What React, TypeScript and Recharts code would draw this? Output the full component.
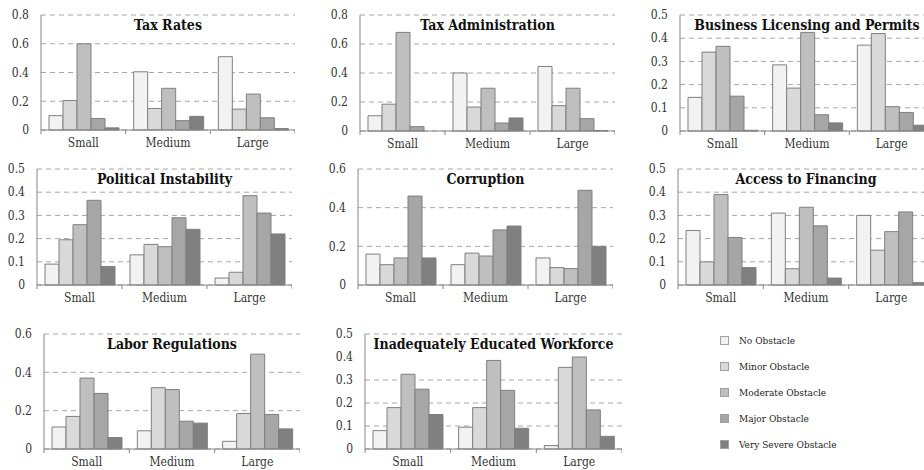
import React from "react";
import { BarChart, Bar, XAxis, YAxis, CartesianGrid } from "recharts";

const FONT = "'DejaVu Serif Condensed', 'DejaVu Serif', serif";

const SIZES = ["Small", "Medium", "Large"];
const SERIES = [
  "No Obstacle",
  "Minor Obstacle",
  "Moderate Obstacle",
  "Major Obstacle",
  "Very Severe Obstacle",
];
const FILLS = ["#f2f2f2", "#d9d9d9", "#bfbfbf", "#a6a6a6", "#808080"];

const TICKS_8 = [0, 0.2, 0.4, 0.6, 0.8];
const TICKS_6 = [0, 0.2, 0.4, 0.6];
const TICKS_5 = [0, 0.1, 0.2, 0.3, 0.4, 0.5];

// one row per firm size, values in SERIES order
const taxRates = [
  [0.1, 0.205, 0.6, 0.08, 0.015],
  [0.405, 0.15, 0.29, 0.065, 0.095],
  [0.51, 0.145, 0.25, 0.085, 0.01],
];
const taxAdministration = [
  [0.105, 0.185, 0.68, 0.03, 0],
  [0.4, 0.165, 0.295, 0.055, 0.09],
  [0.445, 0.175, 0.295, 0.085, 0.003],
];
const businessLicensing = [
  [0.145, 0.34, 0.365, 0.15, 0.003],
  [0.285, 0.185, 0.425, 0.07, 0.035],
  [0.37, 0.42, 0.105, 0.08, 0.025],
];
const politicalInstability = [
  [0.09, 0.195, 0.26, 0.365, 0.08],
  [0.13, 0.175, 0.165, 0.29, 0.24],
  [0.03, 0.055, 0.385, 0.31, 0.22],
];
const corruption = [
  [0.16, 0.105, 0.14, 0.46, 0.14],
  [0.105, 0.165, 0.15, 0.285, 0.305],
  [0.14, 0.09, 0.085, 0.49, 0.2],
];
const accessToFinancing = [
  [0.235, 0.1, 0.39, 0.205, 0.075],
  [0.31, 0.07, 0.335, 0.255, 0.03],
  [0.3, 0.15, 0.23, 0.315, 0.01],
];
const laborRegulations = [
  [0.115, 0.17, 0.37, 0.29, 0.06],
  [0.095, 0.32, 0.31, 0.145, 0.135],
  [0.04, 0.185, 0.495, 0.18, 0.105],
];
const educatedWorkforce = [
  [0.08, 0.18, 0.325, 0.26, 0.15],
  [0.095, 0.18, 0.385, 0.255, 0.09],
  [0.015, 0.355, 0.4, 0.17, 0.055],
];

const toRows = (values: number[][]) =>
  SIZES.map((size, i) => {
    const row: Record<string, any> = { size };
    values[i].forEach((v, j) => (row["s" + j] = v));
    return row;
  });

function SizeTick(props: any) {
  const { x, y, payload, band, index } = props;
  return (
    <g>
      <text
        x={x}
        y={y + 17}
        textAnchor="middle"
        fontSize={12}
        fontFamily={FONT}
        fill="#333"
      >
        {payload.value}
      </text>
      <line x1={x + band / 2} x2={x + band / 2} y1={y} y2={y + 4} stroke="#868686" />
      {index === 0 && (
        <line x1={x - band / 2} x2={x - band / 2} y1={y} y2={y + 4} stroke="#868686" />
      )}
    </g>
  );
}

interface PanelProps {
  title: string;
  values: number[][];
  max: number;
  ticks: number[];
  x0: number;
  y0: number;
  x1: number;
  y1: number;
}

function Panel({ title, values, max, ticks, x0, y0, x1, y1 }: PanelProps) {
  const yW = 40;
  const mt = 10;
  const xH = 30;
  const left = x0 - yW;
  const top = y0 - mt;
  const width = x1 - left;
  const height = y1 - top + xH;
  const band = (x1 - x0) / SIZES.length;

  return (
    <div style={{ position: "absolute", left, top, width, height }}>
      <BarChart
        width={width}
        height={height}
        data={toRows(values)}
        margin={{ top: mt, right: 0, left: 0, bottom: 0 }}
        barCategoryGap={8}
        barGap={0}
      >
        <CartesianGrid vertical={false} stroke="#a6a6a6" strokeDasharray="5 4" />
        <XAxis
          dataKey="size"
          height={xH}
          interval={0}
          tickSize={0}
          tickMargin={0}
          tickLine={false}
          axisLine={{ stroke: "#868686" }}
          tick={(p: any) => <SizeTick {...p} band={band} />}
        />
        <YAxis
          width={yW}
          domain={[0, max]}
          ticks={ticks}
          tickLine={false}
          tickSize={0}
          tickMargin={12}
          axisLine={{ stroke: "#868686" }}
          tick={{ fontSize: 12, fill: "#333", fontFamily: FONT }}
          tickFormatter={(v: number) => (v === 0 ? "0" : v.toFixed(1))}
        />
        {SERIES.map((name, j) => (
          <Bar
            key={name}
            name={name}
            dataKey={"s" + j}
            fill={FILLS[j]}
            stroke="#7f7f7f"
            strokeWidth={1}
            isAnimationActive={false}
          />
        ))}
      </BarChart>
      <div
        style={{
          position: "absolute",
          left: yW,
          width: x1 - x0,
          top: mt + 2,
          textAlign: "center",
          fontFamily: FONT,
          fontWeight: "bold",
          fontSize: 14,
          lineHeight: "16px",
          color: "#111",
          whiteSpace: "nowrap",
        }}
      >
        {title}
      </div>
    </div>
  );
}

function Legend() {
  return (
    <div style={{ position: "absolute", left: 720, top: 327 }}>
      {SERIES.map((name, j) => (
        <div
          key={name}
          style={{ display: "flex", alignItems: "center", height: 26, fontFamily: FONT, fontSize: 10, color: "#222" }}
        >
          <span
            style={{
              display: "inline-block",
              width: 7,
              height: 7,
              background: FILLS[j],
              border: "1px solid #a0a0a0",
              marginRight: 10,
            }}
          />
          {name}
        </div>
      ))}
    </div>
  );
}

export default function App() {
  return (
    <div
      style={{
        position: "fixed",
        left: 0,
        top: 0,
        width: 924,
        height: 470,
        overflow: "hidden",
        background: "#fff",
        fontFamily: FONT,
        fontStretch: "condensed",
      }}
    >
      <Panel title="Tax Rates" values={taxRates} max={0.8} ticks={TICKS_8} x0={41} y0={15} x1={295} y1={130} />
      <Panel title="Tax Administration" values={taxAdministration} max={0.8} ticks={TICKS_8} x0={360} y0={15} x1={615} y1={131} />
      <Panel title="Business Licensing and Permits" values={businessLicensing} max={0.5} ticks={TICKS_5} x0={680} y0={15} x1={934} y1={131} />
      <Panel title="Political Instability" values={politicalInstability} max={0.5} ticks={TICKS_5} x0={37} y0={169} x1={292} y1={285} />
      <Panel title="Corruption" values={corruption} max={0.6} ticks={TICKS_6} x0={358} y0={169} x1={613} y1={285} />
      <Panel title="Access to Financing" values={accessToFinancing} max={0.5} ticks={TICKS_5} x0={678} y0={169} x1={934} y1={285} />
      <Panel title="Labor Regulations" values={laborRegulations} max={0.6} ticks={TICKS_6} x0={44} y0={334} x1={300} y1={449} />
      <Panel title="Inadequately Educated Workforce" values={educatedWorkforce} max={0.5} ticks={TICKS_5} x0={365} y0={334} x1={622} y1={449} />
      <Legend />
    </div>
  );
}
